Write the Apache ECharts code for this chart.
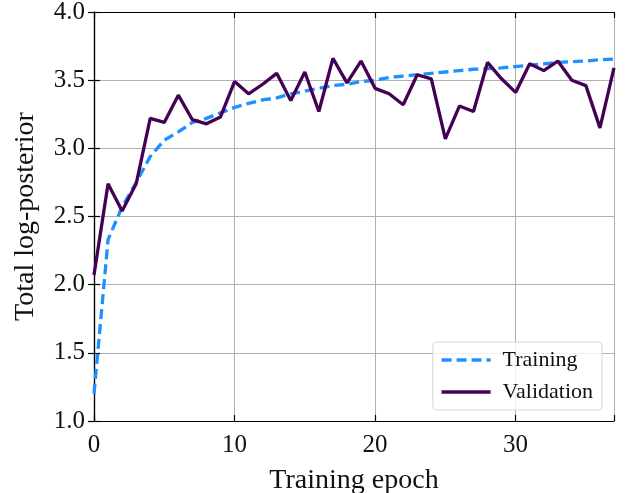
<!DOCTYPE html>
<html><head><meta charset="utf-8">
<script src="https://cdn.jsdelivr.net/npm/echarts@6/dist/echarts.min.js"></script>
<style>html,body{margin:0;padding:0;background:#fff}#c{width:626px;height:493px}</style>
</head><body><div id="c"></div>
<script>
const epochs = Array.from({length: 38}, (_, i) => i);
const training = [1.20,2.33,2.57,2.75,2.94,3.06,3.12,3.19,3.22,3.26,3.30,3.33,3.355,3.37,3.40,3.42,3.44,3.46,3.47,3.49,3.50,3.52,3.53,3.54,3.55,3.56,3.57,3.58,3.585,3.59,3.60,3.61,3.62,3.63,3.635,3.64,3.65,3.655];
const validation = [2.07,2.74,2.54,2.74,3.22,3.19,3.39,3.21,3.18,3.23,3.49,3.40,3.47,3.55,3.35,3.56,3.27,3.66,3.48,3.64,3.44,3.40,3.32,3.54,3.51,3.07,3.31,3.27,3.63,3.51,3.41,3.62,3.57,3.64,3.50,3.46,3.15,3.59];
const xTicks = [0,10,20,30];
const yTicks = [1.0,1.5,2.0,2.5,3.0,3.5,4.0];
const FONT = 'Liberation Serif';
const chart = echarts.init(document.getElementById('c'), null, {renderer:'canvas'});
const axisLineStyle = {show:true, lineStyle:{color:'#000', width:1.2}};
const tickStyle = {show:true, inside:true, length:6, lineStyle:{color:'#000', width:1.2}};
chart.setOption({
  animation:false,
  grid:{left:94, right:12, top:12, bottom:72, containLabel:false, outerBoundsMode:'none'},
  legend:{
    right:24, bottom:83, orient:'vertical', itemWidth:49, itemHeight:22, itemGap:10,
    padding:[7,9,7,7], borderColor:'#d6d6d6', borderWidth:1, borderRadius:4, backgroundColor:'rgba(255,255,255,0.8)',
    textStyle:{fontFamily:FONT, fontSize:22, color:'#111', padding:[0,0,0,7]},
    itemStyle:{color:'rgba(0,0,0,0)', borderColor:'rgba(0,0,0,0)', borderWidth:0},
    lineStyle:{width:3.5},
    data:['Training','Validation']
  },
  xAxis:[{
    type:'value', min:0, max:37, interval:10, position:'bottom',
    axisLine:axisLineStyle, axisTick:tickStyle,
    splitLine:{show:true, lineStyle:{color:'#b0b0b0', width:1}},
    axisLabel:{fontFamily:FONT, fontSize:25, color:'#111', margin:12,
      formatter:v=>xTicks.includes(v)?String(v):''},
    name:'Training epoch', nameLocation:'middle', nameGap:46,
    nameTextStyle:{fontFamily:FONT, fontSize:28, color:'#111'}
  },{
    type:'value', min:0, max:37, interval:10, position:'top',
    axisLine:axisLineStyle, axisTick:tickStyle, axisLabel:{show:false}, splitLine:{show:false}
  }],
  yAxis:[{
    type:'value', min:1.0, max:4.0, interval:0.5, position:'left',
    axisLine:axisLineStyle, axisTick:tickStyle,
    splitLine:{show:true, lineStyle:{color:'#b0b0b0', width:1}},
    axisLabel:{fontFamily:FONT, fontSize:25, color:'#111', margin:9,
      formatter:v=>yTicks.some(t=>Math.abs(t-v)<1e-9)?v.toFixed(1):''},
    name:'Total log-posterior', nameLocation:'middle', nameGap:54,
    nameTextStyle:{fontFamily:FONT, fontSize:28, color:'#111'}
  },{
    type:'value', min:1.0, max:4.0, interval:0.5, position:'right',
    axisLine:axisLineStyle, axisTick:tickStyle, axisLabel:{show:false}, splitLine:{show:false}
  }],
  series:[{
    name:'Training', type:'line', data:epochs.map((e,i)=>[e,training[i]]),
    showSymbol:false, symbol:'none', z:3,
    lineStyle:{color:'#1E90FF', width:3.3, type:[10,5]}, itemStyle:{color:'#1E90FF'}
  },{
    name:'Validation', type:'line', data:epochs.map((e,i)=>[e,validation[i]]),
    showSymbol:false, symbol:'none', z:4,
    lineStyle:{color:'#440154', width:3.3}, itemStyle:{color:'#440154'}
  }]
});
</script></body></html>
